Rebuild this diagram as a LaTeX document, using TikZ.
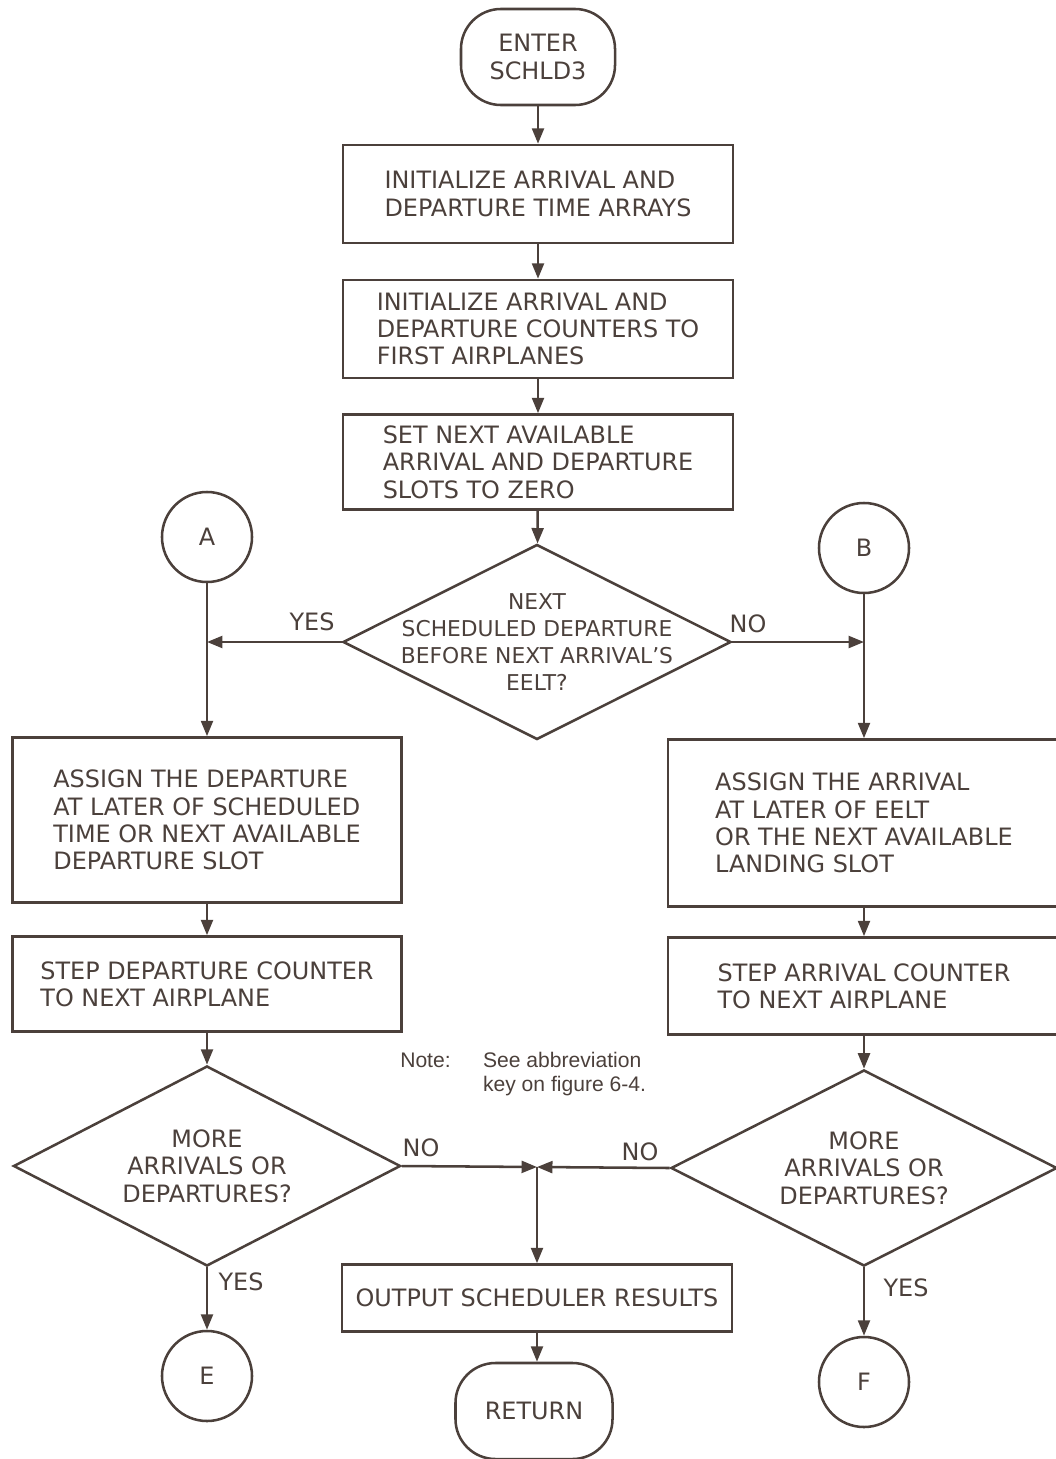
\documentclass[tikz,border=0pt]{standalone}
\usepackage{fontspec}
\setmainfont{DejaVu Sans}
\newfontfamily\notefont{Liberation Sans}
\usepackage{tikz}
\usetikzlibrary{shapes.geometric, arrows.meta, positioning, calc}
\definecolor{ink}{RGB}{75,64,59}

\begin{document}
\begin{tikzpicture}[
        x=0.025cm, y=-0.025cm,
        every node/.style={text=ink, font=\fontsize{17}{19.5}\selectfont},
        line/.style={draw=ink, line width=1.8pt},
        arrow/.style={line, -{Triangle[length=11pt,width=8.5pt]}},
        block/.style={rectangle, line, align=left, minimum width=9.75cm, inner sep=0pt},
        decision/.style={diamond, aspect=2, line, align=center, inner sep=-1cm},
        term/.style={rectangle, line, rounded corners=1cm, align=center, minimum width=3.85cm, minimum height=2.4cm},
        conn/.style={circle, line, minimum size=2.25cm, inner sep=0pt},
        tag/.style={inner sep=0pt}
    ]
    \useasboundingbox (0,0) rectangle (1055,1459);

    % main column
    \node[term] (enter) at (538,57) {ENTER\\SCHLD3};
    \node[block, minimum height=2.45cm] (inittime) at (538,194) {INITIALIZE ARRIVAL AND\\DEPARTURE TIME ARRAYS};
    \node[block, minimum height=2.45cm] (initcount) at (538,329) {INITIALIZE ARRIVAL AND\\DEPARTURE COUNTERS TO\\FIRST AIRPLANES};
    \node[block, minimum height=2.375cm] (setslots) at (538,462) {SET NEXT AVAILABLE\\ARRIVAL AND DEPARTURE\\SLOTS TO ZERO};
    \node[decision, minimum width=9.7cm, minimum height=4.875cm, font=\fontsize{15.5}{19}\selectfont] (d1) at (537,642) {NEXT\\SCHEDULED DEPARTURE\\BEFORE NEXT ARRIVAL'S\\EELT?};

    % departure branch
    \node[conn] (A) at (207,537) {A};
    \coordinate (yesjoin) at (207,642);
    \node[block, minimum width=9.725cm, minimum height=4.125cm] (assigndep) at (207,820) {ASSIGN THE DEPARTURE\\AT LATER OF SCHEDULED\\TIME OR NEXT AVAILABLE\\DEPARTURE SLOT};
    \node[block, minimum width=9.725cm, minimum height=2.375cm] (stepdep) at (207,984) {STEP DEPARTURE COUNTER\\TO NEXT AIRPLANE};
    \node[decision, minimum width=9.675cm, minimum height=5cm] (moredep) at (207,1166) {MORE\\ARRIVALS OR\\DEPARTURES?};
    \node[conn] (E) at (207,1376) {E};

    % arrival branch
    \node[conn] (B) at (864,548) {B};
    \coordinate (nojoin) at (864,642);
    \node[block, minimum width=9.8cm, minimum height=4.175cm] (assignarr) at (864,823) {ASSIGN THE ARRIVAL\\AT LATER OF EELT\\OR THE NEXT AVAILABLE\\LANDING SLOT};
    \node[block, minimum width=9.8cm, minimum height=2.425cm] (steparr) at (864,986) {STEP ARRIVAL COUNTER\\TO NEXT AIRPLANE};
    \node[decision, minimum width=9.65cm, minimum height=4.9cm] (morearr) at (864,1168) {MORE\\ARRIVALS OR\\DEPARTURES?};
    \node[conn] (F) at (864,1382) {F};

    % exit
    \coordinate (exitjoin) at (537,1167);
    \node[block, minimum height=1.675cm] (output) at (537,1298) {OUTPUT SCHEDULER RESULTS};
    \node[term, minimum width=3.925cm] (ret) at (534,1411) {RETURN};

    \node[tag, anchor=west, align=left] (note) at (400,1075) {\notefont\fontsize{15}{17}\selectfont
        \begin{tabular}{@{}l@{\hspace{23pt}}l@{}}Note: & See abbreviation\\ & key on figure 6-4.\end{tabular}};

    % branch labels
    \node[tag] (yes1) at (312,622) {YES};
    \node[tag] (no1) at (748,624) {NO};
    \node[tag] (no2) at (421,1148) {NO};
    \node[tag] (no3) at (640,1152) {NO};
    \node[tag] (yes2) at (241,1282) {YES};
    \node[tag] (yes3) at (906,1288) {YES};

    \draw[arrow] (enter) -- (inittime);
    \draw[arrow] (inittime) -- (initcount);
    \draw[arrow] (initcount) -- (setslots);
    \draw[arrow] (setslots) -- (d1);

    \draw[arrow] (d1.west) -- (yesjoin);
    \draw[arrow] (A) -- (assigndep);
    \draw[arrow] (assigndep) -- (stepdep);
    \draw[arrow] (stepdep) -- (moredep);
    \draw[arrow] (moredep) -- (E);

    \draw[arrow] (d1.east) -- (nojoin);
    \draw[arrow] (B) -- (assignarr);
    \draw[arrow] (assignarr) -- (steparr);
    \draw[arrow] (steparr) -- (morearr);
    \draw[arrow] (morearr) -- (F);

    \draw[arrow] (moredep.east) -- (exitjoin);
    \draw[arrow] (morearr.west) -- (exitjoin);
    \draw[arrow] (exitjoin) -- (output);
    \draw[arrow] (output.south) -- (output.south |- ret.north);
\end{tikzpicture}
\end{document}
